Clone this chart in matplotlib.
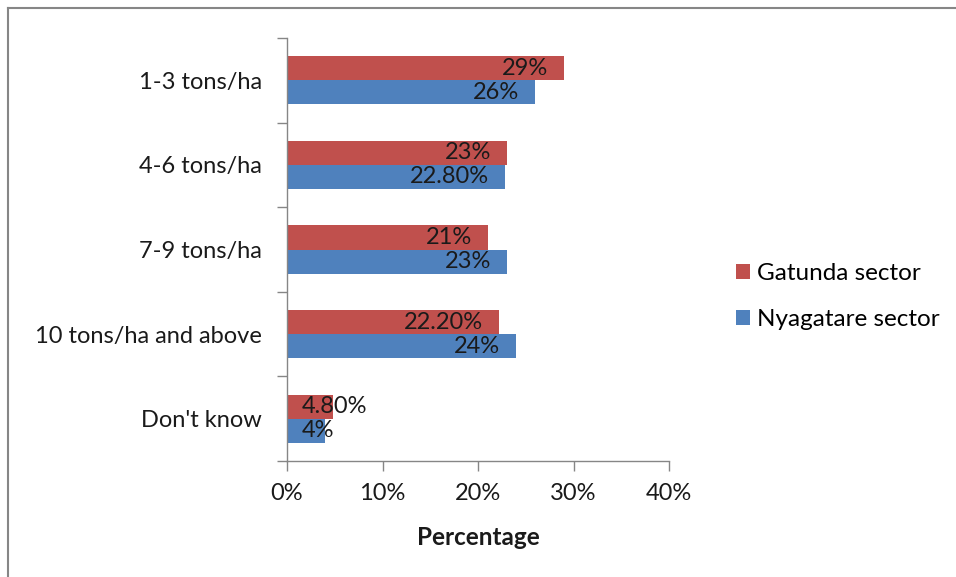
import matplotlib
matplotlib.use("Agg")
import matplotlib.pyplot as plt
from matplotlib.lines import Line2D
from matplotlib.ticker import FixedLocator, FuncFormatter
import numpy as np

plt.rcParams['font.family'] = ['Lato', 'DejaVu Sans']

categories = ["1-3 tons/ha", "4-6 tons/ha", "7-9 tons/ha", "10 tons/ha and above", "Don't know"]
gatunda = [29, 23, 21, 22.2, 4.8]
nyagatare = [26, 22.8, 23, 24, 4]
gatunda_labels = ["29%", "23%", "21%", "22.20%", "4.80%"]
nyagatare_labels = ["26%", "22.80%", "23%", "24%", "4%"]
x_ticks = [0, 10, 20, 30, 40]

RED = "#C0504D"
BLUE = "#4F81BD"
GRID = "#868686"
INK = "#1a1a1a"
FS = 17

fig = plt.figure(figsize=(9.56, 5.77), dpi=100)
ax = fig.add_axes([287 / 956, 1 - 461 / 577, (669 - 287) / 956, (461 - 38) / 577])

n = len(categories)
y = np.arange(n)
h = 0.285
ax.barh(y - h / 2, gatunda, height=h, color=RED, label="Gatunda sector")
ax.barh(y + h / 2, nyagatare, height=h, color=BLUE, label="Nyagatare sector")

ax.set_ylim(n - 0.5, -0.5)
ax.set_xlim(0, 40)


def put_label(v, ypos, lab):
    if v < 8:
        ax.text(1.55, ypos, lab, ha="left", va="center", fontsize=FS, color=INK)
    else:
        ax.text(v - 1.65, ypos, lab, ha="right", va="center", fontsize=FS, color=INK)


for yi, v, lab in zip(y, gatunda, gatunda_labels):
    put_label(v, yi - h / 2, lab)
for yi, v, lab in zip(y, nyagatare, nyagatare_labels):
    put_label(v, yi + h / 2, lab)

# category labels centred in each band, tick marks on band boundaries
ax.set_yticks(y)
ax.set_yticklabels(categories, fontsize=FS, color=INK)
ax.tick_params(axis="y", which="major", length=0, pad=18)
ax.yaxis.set_minor_locator(FixedLocator(np.arange(-0.5, n, 1.0)))
ax.tick_params(axis="y", which="minor", length=7, color=GRID, width=1)

ax.xaxis.set_major_locator(FixedLocator(x_ticks))
ax.xaxis.set_major_formatter(FuncFormatter(lambda v, p: f"{v:.0f}%"))
ax.tick_params(axis="x", length=7, color=GRID, width=1, labelsize=FS, labelcolor=INK, pad=9)
ax.set_xlabel("Percentage", fontsize=17.5, fontweight="bold", labelpad=16, color=INK)

for s in ["top", "right"]:
    ax.spines[s].set_visible(False)
for s in ["left", "bottom"]:
    ax.spines[s].set_color(GRID)
    ax.spines[s].set_linewidth(1)

ax.legend(loc="center left", bbox_to_anchor=(736 / 956, 1 - 296.5 / 577), bbox_transform=fig.transFigure,
          frameon=False, fontsize=17.5, handlelength=0.58, handleheight=0.58, handletextpad=0.3,
          labelspacing=1.05, borderpad=0, borderaxespad=0)

# chart area border
fig.add_artist(Line2D([8 / 956, 8 / 956], [0, 1 - 8 / 577], transform=fig.transFigure, color=GRID, lw=1.5))
fig.add_artist(Line2D([8 / 956, 1], [1 - 8 / 577, 1 - 8 / 577], transform=fig.transFigure, color=GRID, lw=1.5))

fig.savefig("out.png", dpi=100)
